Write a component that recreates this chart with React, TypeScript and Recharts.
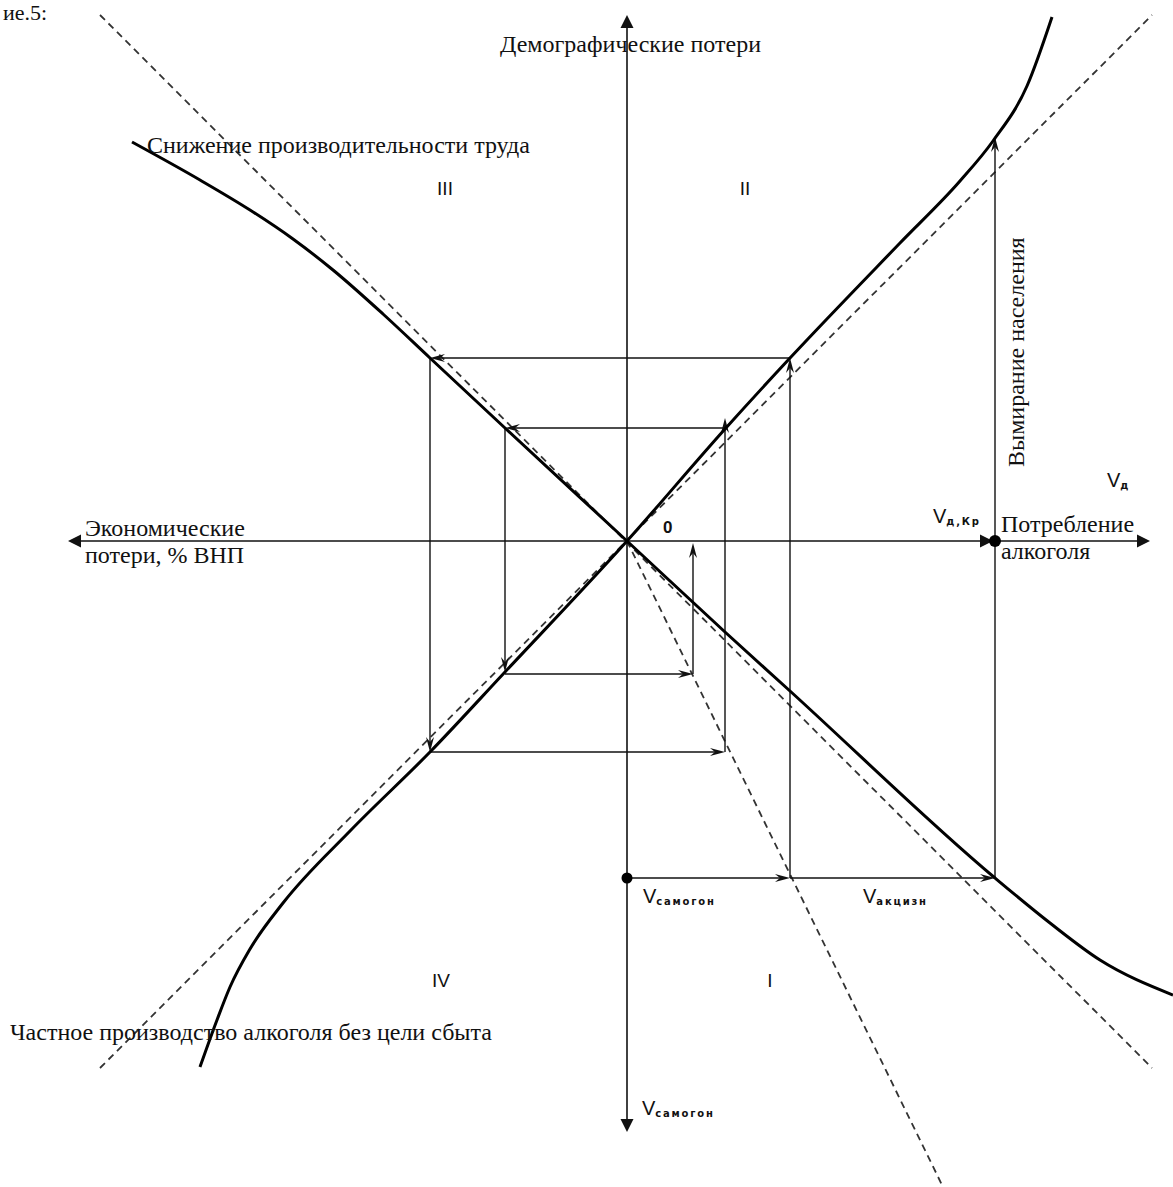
import React from "react";
import { LineChart, Line, XAxis, YAxis, ReferenceLine, ReferenceDot } from "recharts";

// origin = crossing of the axes, x to the right, y upwards (1 unit ~ 1px of the scan)
const demographicCurve = [
  { x: -427, y: -526 }, { x: -410, y: -479 }, { x: -397, y: -446 }, { x: -377, y: -408 },
  { x: -344, y: -362 }, { x: -277, y: -290 }, { x: -197, y: -211 }, { x: -122, y: -131 },
  { x: 0, y: 0 }, { x: 98, y: 112 }, { x: 163, y: 183 }, { x: 273, y: 298 },
  { x: 333, y: 360 }, { x: 366, y: 400 }, { x: 400, y: 455 }, { x: 425, y: 524 },
];

const productivityCurve = [
  { x: -495, y: 399 }, { x: -427, y: 361 }, { x: -377, y: 331 }, { x: -334, y: 302 },
  { x: -294, y: 271 }, { x: -244, y: 227 }, { x: -197, y: 183 }, { x: -122, y: 113 },
  { x: 0, y: 0 }, { x: 98, y: -91 }, { x: 163, y: -150 }, { x: 368, y: -337 },
  { x: 423, y: -382 }, { x: 473, y: -419 }, { x: 546, y: -454 },
];

const guideLines = [
  [{ x: -527, y: 526 }, { x: 525, y: -527 }],
  [{ x: -527, y: -527 }, { x: 525, y: 526 }],
  [{ x: 0, y: 0 }, { x: 316, y: -646 }],
];

const vSamogon = 163;
const vCrit = 368;
const baseLevel = -337;

const axisArrows = [
  [{ x: 0, y: 0 }, { x: 0, y: 526 }],
  [{ x: 0, y: 0 }, { x: 0, y: -591 }],
  [{ x: 0, y: 0 }, { x: -559, y: 0 }],
  [{ x: 0, y: 0 }, { x: 523, y: 0 }],
];

const flowArrows = [
  [{ x: 0, y: baseLevel }, { x: vSamogon, y: baseLevel }],
  [{ x: vSamogon, y: baseLevel }, { x: vCrit, y: baseLevel }],
  [{ x: vCrit, y: baseLevel }, { x: vCrit, y: 404 }],
  [{ x: vSamogon, y: baseLevel }, { x: vSamogon, y: 183 }],
  [{ x: vSamogon, y: 183 }, { x: -197, y: 183 }],
  [{ x: -197, y: 183 }, { x: -197, y: -211 }],
  [{ x: -197, y: -211 }, { x: 98, y: -211 }],
  [{ x: 98, y: -211 }, { x: 98, y: 123 }],
  [{ x: 98, y: 113 }, { x: -122, y: 113 }],
  [{ x: -122, y: 113 }, { x: -122, y: -131 }],
  [{ x: -122, y: -133 }, { x: 66, y: -133 }],
  [{ x: 66, y: -133 }, { x: 66, y: -2 }],
];

const SERIF = "'Liberation Serif', 'DejaVu Serif', serif";
const SANS = "'Liberation Sans', 'DejaVu Sans', sans-serif";

function arrowShape(kind: "axis" | "thin" | "head") {
  return (p: any) => {
    const { x1, y1, x2, y2 } = p;
    const dx = x2 - x1;
    const dy = y2 - y1;
    const len = Math.hypot(dx, dy) || 1;
    const ux = dx / len;
    const uy = dy / len;
    const nx = -uy;
    const ny = ux;
    const L = kind === "thin" ? 15 : 13;
    const W = kind === "thin" ? 4 : 6.5;
    const notch = kind === "thin" ? 10 : 13;
    const bx = x2 - ux * L;
    const by = y2 - uy * L;
    const d = `M${x2},${y2} L${bx + nx * W},${by + ny * W} L${x2 - ux * notch},${y2 - uy * notch} L${bx - nx * W},${by - ny * W} Z`;
    return (
      <g>
        {kind !== "head" && (
          <line x1={x1} y1={y1} x2={x2 - ux * 5} y2={y2 - uy * 5} stroke="#111" strokeWidth={kind === "axis" ? 1.6 : 1.4} />
        )}
        <path d={d} fill="#111" />
      </g>
    );
  };
}

function caption(key: string, x: number, y: number, text: React.ReactNode, style: any = {}, rotate = 0) {
  return (
    <ReferenceDot
      key={key}
      x={x}
      y={y}
      r={0}
      ifOverflow="visible"
      shape={(p: any) => (
        <text
          x={p.cx}
          y={p.cy}
          fill="#111"
          fontFamily={SERIF}
          fontSize={24}
          textAnchor="start"
          transform={rotate ? `rotate(${rotate} ${p.cx} ${p.cy})` : undefined}
          {...style}
        >
          {text}
        </text>
      )}
    />
  );
}

function vLabel(key: string, x: number, y: number, sub: string) {
  return caption(
    key,
    x,
    y,
    <>
      <tspan fontFamily={SANS} fontSize={20} fontWeight={300}>V</tspan>
      <tspan fontFamily="'DejaVu Sans', sans-serif" fontSize={10} fontWeight="bold" letterSpacing={1.8} dy={2}>
        {sub}
      </tspan>
    </>,
    { fontFamily: SANS }
  );
}

const roman = { fontFamily: SANS, fontSize: 19, fontWeight: 300, textAnchor: "middle" };

export default function App() {
  return (
    <div style={{ position: "absolute", left: 0, top: 0, width: 1173, height: 1187, background: "#fff" }}>
      <LineChart width={1173} height={1187} margin={{ top: 0, right: 0, bottom: 0, left: 0 }}>
        <XAxis type="number" dataKey="x" domain={[-627, 546]} allowDataOverflow hide />
        <YAxis type="number" dataKey="y" domain={[-646, 541]} allowDataOverflow hide />

        {guideLines.map((seg, i) => (
          <ReferenceLine key={`g${i}`} segment={seg} stroke="#333" strokeWidth={1.8} strokeDasharray="7 5" />
        ))}

        {axisArrows.map((seg, i) => (
          <ReferenceLine key={`a${i}`} segment={seg} shape={arrowShape("axis")} />
        ))}
        <ReferenceLine segment={[{ x: 340, y: 0 }, { x: vCrit - 2, y: 0 }]} shape={arrowShape("head")} />

        {flowArrows.map((seg, i) => (
          <ReferenceLine key={`f${i}`} segment={seg} shape={arrowShape("thin")} />
        ))}

        <Line data={productivityCurve} dataKey="y" type="monotone" stroke="#000" strokeWidth={3} dot={false} activeDot={false} legendType="none" isAnimationActive={false} />
        <Line data={demographicCurve} dataKey="y" type="monotone" stroke="#000" strokeWidth={3} dot={false} activeDot={false} legendType="none" isAnimationActive={false} />

        <ReferenceDot x={0} y={baseLevel} r={5.5} fill="#000" stroke="none" />
        <ReferenceDot x={vCrit} y={0} r={6} fill="#000" stroke="none" />

        {caption("fig", -624, 521, "ие.5:", { fontSize: 22 })}
        {caption("demo", -127, 489, "Демографические потери")}
        {caption("prod", -480, 388, "Снижение производительности труда")}
        {caption("econ1", -542, 5, "Экономические")}
        {caption("econ2", -542, -22, "потери, % ВНП")}
        {caption("cons1", 374, 9, "Потребление")}
        {caption("cons2", 374, -18, "алкоголя")}
        {caption("dying", 397, 74, "Вымирание населения", {}, -90)}
        {caption("private", -617, -499, "Частное производство алкоголя без цели сбыта")}

        {caption("q3", -182, 346, "III", roman)}
        {caption("q2", 118, 346, "II", roman)}
        {caption("q4", -186, -446, "IV", roman)}
        {caption("q1", 143, -446, "I", roman)}
        {caption("zero", 36, 8, "0", { fontFamily: SANS, fontSize: 17, fontWeight: "bold" })}

        {vLabel("vcrit", 306, 18, "д,Кр")}
        {vLabel("vd", 480, 54, "д")}
        {vLabel("vs1", 16, -362, "самогон")}
        {vLabel("va", 236, -362, "акцизн")}
        {vLabel("vs2", 15, -574, "самогон")}
      </LineChart>
    </div>
  );
}
